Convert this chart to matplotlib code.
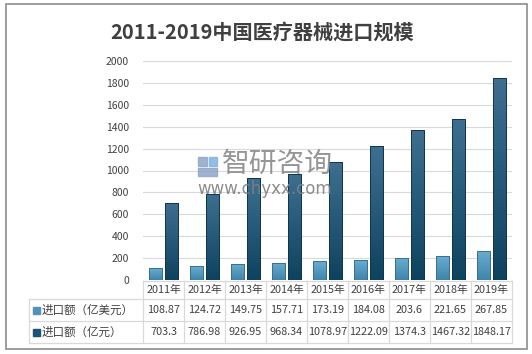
import numpy as np
from matplotlib import pyplot as plt
from matplotlib.lines import Line2D
from matplotlib.patches import Rectangle
from matplotlib.colors import LinearSegmentedColormap

plt.rcParams['font.family'] = ['Noto Sans CJK SC', 'DejaVu Sans']

years = ['2011年', '2012年', '2013年', '2014年', '2015年', '2016年', '2017年', '2018年', '2019年']
usd = [108.87, 124.72, 149.75, 157.71, 173.19, 184.08, 203.6, 221.65, 267.85]
rmb = [703.3, 786.98, 926.95, 968.34, 1078.97, 1222.09, 1374.3, 1467.32, 1848.17]
usd_labels = ['108.87', '124.72', '149.75', '157.71', '173.19', '184.08', '203.6', '221.65', '267.85']
rmb_labels = ['703.3', '786.98', '926.95', '968.34', '1078.97', '1222.09', '1374.3', '1467.32', '1848.17']
series_names = ['进口额（亿美元）', '进口额（亿元）']
yticks = [0, 200, 400, 600, 800, 1000, 1200, 1400, 1600, 1800, 2000]

W, H = 532, 354
LIGHT = '#4f93ba'
DARK = '#1d5273'
TXT = '#404040'
GRID = '#d9d9d9'

light_cmap = LinearSegmentedColormap.from_list('l', ['#3f84ab', '#6aaed1'])
dark_cmap = LinearSegmentedColormap.from_list('d', ['#0e435f', '#3e6f90'])


def fx(px):
    return px / W


def fy(py):
    return 1 - py / H


fig = plt.figure(figsize=(W / 100, H / 100), dpi=100)

# outer frame
fig.add_artist(Rectangle((fx(6), fy(349)), fx(521), (345) / H, fill=False,
                         edgecolor='#8c8c8c', linewidth=1.2))

ax = fig.add_axes([fx(143), fy(280), fx(512 - 143), (280 - 61) / H])
x = np.arange(len(years))
grad = np.linspace(0, 1, 64).reshape(-1, 1)
for vals, off, cmap, ec in [(usd, -0.19, light_cmap, '#3b6f90'), (rmb, 0.19, dark_cmap, '#10364f')]:
    bars = ax.bar(x + off, vals, width=0.32, color='none', edgecolor=ec, linewidth=0.7, zorder=4)
    for b in bars:
        x0, w, h = b.get_x(), b.get_width(), b.get_height()
        im = ax.imshow(grad, extent=[x0, x0 + w, 0, h], origin='lower', aspect='auto',
                       cmap=cmap, zorder=3)
        im.set_clip_path(b)
ax.set_xlim(-0.5, len(years) - 0.5)
ax.set_ylim(0, 2000)
ax.set_yticks(yticks)
ax.set_yticklabels([str(t) for t in yticks], fontsize=7.5, color=TXT)
ax.set_xticks([])
ax.grid(axis='y', color=GRID, linewidth=0.8, zorder=0)
for s in ax.spines.values():
    s.set_visible(False)
ax.tick_params(axis='y', length=0, pad=10)

fig.text(fx(262), fy(32), '2011-2019中国医疗器械进口规模', ha='center', va='center',
         fontsize=14.5, fontweight='bold', color=TXT)

# data table under the axis
col0, col_w = 143, 41
rows_y = [281, 299, 321, 343]
left = 29
right = col0 + col_w * len(years)
lines = [
    ((col0, right), (rows_y[0], rows_y[0])),
    ((left, right), (rows_y[1], rows_y[1])),
    ((left, right), (rows_y[2], rows_y[2])),
    ((left, right), (rows_y[3], rows_y[3])),
    ((left, left), (rows_y[1], rows_y[3])),
]
for i in range(len(years) + 1):
    xx = col0 + col_w * i
    lines.append(((xx, xx), (rows_y[0], rows_y[3])))
for (xs, ys) in lines:
    fig.add_artist(Line2D([fx(v) for v in xs], [fy(v) for v in ys], color=GRID, linewidth=0.9))

for i, yr in enumerate(years):
    cx = col0 + col_w * (i + 0.5)
    fig.text(fx(cx), fy((rows_y[0] + rows_y[1]) / 2), yr, ha='center', va='center',
             fontsize=7.8, color=TXT)
    fig.text(fx(cx), fy((rows_y[1] + rows_y[2]) / 2), usd_labels[i], ha='center', va='center',
             fontsize=7.8, color=TXT)
    fig.text(fx(cx), fy((rows_y[2] + rows_y[3]) / 2), rmb_labels[i], ha='center', va='center',
             fontsize=7.8, color=TXT)

for r, (name, c) in enumerate(zip(series_names, [LIGHT, DARK])):
    cy = (rows_y[r + 1] + rows_y[r + 2]) / 2
    fig.add_artist(Rectangle((fx(33), fy(cy + 3.5)), fx(7), 7 / H, color=c))
    fig.text(fx(42), fy(cy), name, ha='left', va='center', fontsize=8.3, color=TXT)

# watermark
fig.add_artist(Rectangle((fx(198), fy(166)), fx(9), 9 / H, color='#8fa6c8', alpha=0.85))
fig.add_artist(Rectangle((fx(209), fy(166)), fx(8), 9 / H, color='#7fb3e0', alpha=0.85))
fig.add_artist(Rectangle((fx(198), fy(176)), fx(19), 8 / H, color='#8fa6c8', alpha=0.85))
fig.text(fx(222), fy(164), '智研咨询', ha='left', va='center', fontsize=20, color='#8a8a8a', alpha=0.9)
fig.text(fx(197), fy(189), 'www.chyxx.com', ha='left', va='center', fontsize=12,
         color='#808080', alpha=0.9, family=['DejaVu Sans'])

fig.savefig('out.png', dpi=100)
